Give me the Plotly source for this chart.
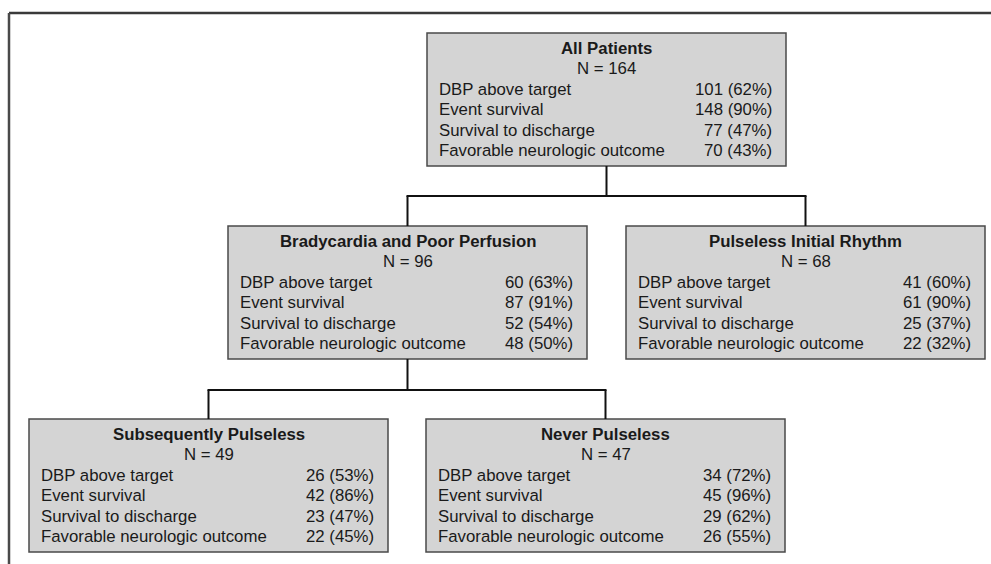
import plotly.graph_objects as go

# ---- data ----
node_titles = ["All Patients", "Bradycardia and Poor Perfusion", "Pulseless Initial Rhythm",
               "Subsequently Pulseless", "Never Pulseless"]
node_n = [164, 96, 68, 49, 47]
row_labels = ["DBP above target", "Event survival", "Survival to discharge",
              "Favorable neurologic outcome"]
dbp_counts = [101, 60, 41, 26, 34]
dbp_pct = [62, 63, 60, 53, 72]
event_counts = [148, 87, 61, 42, 45]
event_pct = [90, 91, 90, 86, 96]
discharge_counts = [77, 52, 25, 23, 29]
discharge_pct = [47, 54, 37, 47, 62]
neuro_counts = [70, 48, 22, 22, 26]
neuro_pct = [43, 50, 32, 45, 55]
# tree edges: (parent, child)
edges = [(0, 1), (0, 2), (1, 3), (1, 4)]

# ---- layout (pixel space of the browser window) ----
W, H = 991, 564
box_x0 = [427, 228, 626, 29, 426]
box_w = 359
box_y0 = [33, 226, 226, 419, 419]
box_h = 133
bus_y = {0: 196, 1: 390}

FONT = "Liberation Sans, Arial, Helvetica, sans-serif"
FS = 16.8
TXT = "#1a1a1a"
FILL = "#d4d4d4"
EDGE = "#4a4a4a"

fig = go.Figure()
shapes = []
ann = []

# figure frame (top and left rule)
shapes.append(dict(type="line", x0=9, x1=W + 5, y0=13, y1=13, line=dict(color="#3a3a3a", width=2.5)))
shapes.append(dict(type="line", x0=9, x1=9, y0=13, y1=H + 5, line=dict(color="#4a4a4a", width=2.5)))

values = list(zip(dbp_counts, dbp_pct)), list(zip(event_counts, event_pct)), \
    list(zip(discharge_counts, discharge_pct)), list(zip(neuro_counts, neuro_pct))

for i, title in enumerate(node_titles):
    x0, y0 = box_x0[i], box_y0[i]
    x1, y1 = x0 + box_w, y0 + box_h
    cx = (x0 + x1) / 2
    shapes.append(dict(type="rect", x0=x0, x1=x1, y0=y0, y1=y1, fillcolor=FILL,
                       line=dict(color=EDGE, width=1.5), layer="below"))
    ann.append(dict(x=cx, y=y0 + 15, text=f"<b>{title}</b>", showarrow=False,
                    xanchor="center", yanchor="middle", font=dict(size=FS, family=FONT, color=TXT)))
    ann.append(dict(x=cx, y=y0 + 35.5, text=f"N = {node_n[i]}", showarrow=False,
                    xanchor="center", yanchor="middle", font=dict(size=FS, family=FONT, color=TXT)))
    for r, lab in enumerate(row_labels):
        yy = y0 + 56 + r * 20.6
        c, p = values[r][i]
        ann.append(dict(x=x0 + 10, y=yy, text=lab, showarrow=False, xanchor="left",
                        yanchor="middle", font=dict(size=FS, family=FONT, color=TXT)))
        ann.append(dict(x=x1 - 12, y=yy, text=f"{c} ({p}%)", showarrow=False, xanchor="right",
                        yanchor="middle", font=dict(size=FS, family=FONT, color=TXT)))

# connectors
for parent in sorted(set(p for p, _ in edges)):
    kids = [c for p, c in edges if p == parent]
    px = box_x0[parent] + box_w / 2
    by = bus_y[parent]
    shapes.append(dict(type="line", x0=px, x1=px, y0=box_y0[parent] + box_h, y1=by,
                       line=dict(color="#111111", width=2)))
    kx = [box_x0[k] + box_w / 2 for k in kids]
    shapes.append(dict(type="line", x0=min(kx) - 1, x1=max(kx) + 1, y0=by, y1=by,
                       line=dict(color="#111111", width=2)))
    for k, x in zip(kids, kx):
        shapes.append(dict(type="line", x0=x, x1=x, y0=by, y1=box_y0[k],
                           line=dict(color="#111111", width=2)))

fig.update_layout(
    width=W, height=H, margin=dict(l=0, r=0, t=0, b=0),
    paper_bgcolor="white", plot_bgcolor="white",
    xaxis=dict(range=[0, W], visible=False, fixedrange=True),
    yaxis=dict(range=[H, 0], visible=False, fixedrange=True),
    shapes=shapes, annotations=ann, showlegend=False, hovermode=False,
)
fig.write_html("out.html", config={"displayModeBar": False, "staticPlot": True},
               post_script="document.body.style.margin='0';document.body.style.overflow='hidden';")
